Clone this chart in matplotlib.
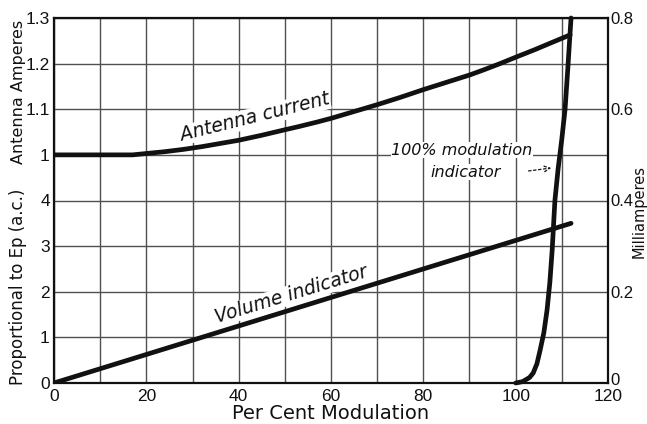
import matplotlib
matplotlib.use("Agg")
import matplotlib.pyplot as plt
import matplotlib.transforms as mtransforms
import numpy as np

# per cent modulation readings
pct_antenna = [0, 10, 17, 20, 24, 28, 32, 36, 40, 45, 50, 53, 57, 60, 65, 70, 75, 80,
               85, 90, 93, 96.6, 100, 104, 108, 111.8]
antenna_amps = [1.0, 1.0, 1.0, 1.003, 1.007, 1.012, 1.018, 1.025, 1.032, 1.043, 1.055,
                1.062, 1.072, 1.08, 1.095, 1.11, 1.126, 1.143, 1.159, 1.175, 1.186,
                1.2, 1.214, 1.23, 1.247, 1.263]

pct_volume = [0, 112]
volume_ep = [0.0, 3.5]

pct_indicator = [100, 101.5, 103, 103.8, 104.6, 105.3, 106.1, 106.8, 107.4, 107.9, 108.5,
                 109.2, 110.0, 110.7, 111.3, 111.8, 112.0]
indicator_ma = [0.0, 0.003, 0.012, 0.022, 0.042, 0.072, 0.11, 0.16, 0.22, 0.29, 0.40,
                0.47, 0.535, 0.60, 0.69, 0.77, 0.80]

x_ticks = [0, 20, 40, 60, 80, 100, 120]
ep_ticks = [0, 1, 2, 3, 4]
amp_ticks = [1.0, 1.1, 1.2, 1.3]
amp_labels = ["1", "1.1", "1.2", "1.3"]
ma_ticks = [0, 0.2, 0.4, 0.6, 0.8]
ma_labels = ["0", "0.2", "0.4", "0.6", "0.8"]

plt.rcParams["font.family"] = ["Liberation Sans", "DejaVu Sans"]

W, H = 647, 424
fig = plt.figure(figsize=(W / 100, H / 100), dpi=100)
fig.patch.set_facecolor("white")
ax = fig.add_axes([54 / W, (H - 383) / H, (608 - 54) / W, (383 - 18) / H])

grid_col = "#505050"
ink = "#111111"
tick_fs = 12.5

# volume scale (lower left) - 8 rows of grid, labels only 0..4
ax.set_xlim(0, 120)
ax.set_ylim(0, 8)
ax.set_xticks(x_ticks)
ax.set_xticks(np.arange(0, 121, 10), minor=True)
ax.set_yticks(np.arange(0, 9, 1))
ax.set_yticklabels([str(t) if t in ep_ticks else "" for t in range(9)])
ax.grid(True, which="both", color=grid_col, lw=1.0)
ax.tick_params(which="both", length=0, labelsize=tick_fs, colors=ink, pad=3)
ax.tick_params(axis="x", pad=4)
ax.set_axisbelow(True)
for s in ax.spines.values():
    s.set_color(ink)
    s.set_linewidth(1.6)

# antenna current scale (upper left)
ax_amp = ax.twinx()
ax_amp.set_ylim(0.5, 1.3)
ax_amp.yaxis.set_ticks_position("left")
ax_amp.set_yticks(amp_ticks)
ax_amp.set_yticklabels(amp_labels)
ax_amp.tick_params(length=0, labelsize=tick_fs, colors=ink, pad=3)

# milliamperes (right)
ax_ma = ax.twinx()
ax_ma.set_ylim(0, 0.8)
ax_ma.set_yticks(ma_ticks)
ax_ma.set_yticklabels(ma_labels)
ax_ma.tick_params(length=0, labelsize=12, colors=ink, pad=2)
# lift the bottom "0" a touch so it clears the "120" below it
zero_lbl = ax_ma.get_yticklabels()[0]
zero_lbl.set_transform(zero_lbl.get_transform() +
                       mtransforms.ScaledTranslation(0, 3 / 72, fig.dpi_scale_trans))
for a in (ax_amp, ax_ma):
    a.spines[:].set_visible(False)

lw = 3.4
ax_amp.plot(pct_antenna, antenna_amps, color=ink, lw=lw, solid_capstyle="round", zorder=3)
ax.plot(pct_volume, volume_ep, color=ink, lw=lw, solid_capstyle="round", zorder=3)
ax_ma.plot(pct_indicator, indicator_ma, color=ink, lw=lw, solid_capstyle="round",
           clip_on=False, zorder=3)

# curve labels, white box knocks the grid out behind the lettering
box = dict(facecolor="white", edgecolor="none", pad=0.3)
lab = dict(style="italic", color=ink, family=["DejaVu Sans"], bbox=box, zorder=1.5)
ax.text(43.5, 5.82, "Antenna current", rotation=14, fontsize=13.5,
        ha="center", va="center", **lab)
ax.text(51.3, 1.93, "Volume indicator", rotation=17, fontsize=13.5,
        ha="center", va="center", **lab)
ax.text(73, 5.1, "100% modulation", fontsize=11.5, ha="left", va="center", **lab)
ax.text(81.5, 4.62, "indicator", fontsize=11.5, ha="left", va="center", **lab)
ax.annotate("", xy=(108.3, 4.72), xytext=(102.2, 4.64),
            arrowprops=dict(arrowstyle="->", linestyle=(0, (2, 2)), color=ink, lw=0.9))

# axis titles
ax.set_xlabel("Per Cent Modulation", fontsize=14, color=ink, labelpad=0,
              family=["DejaVu Sans"])
fig.text(19 / W, 1 - 92 / H, "Antenna Amperes", rotation=90, fontsize=11.5,
         ha="center", va="center", color=ink, family=["DejaVu Sans"])
fig.text(18 / W, 1 - 287 / H, "Proportional to Ep (a.c.)", rotation=90, fontsize=12,
         ha="center", va="center", color=ink, family=["DejaVu Sans"])
fig.text(639.5 / W, 1 - 212 / H, "Milliamperes", rotation=90, fontsize=10.5,
         ha="center", va="center", color=ink, family=["DejaVu Sans"])

fig.savefig("out.png", dpi=100, facecolor="white")
